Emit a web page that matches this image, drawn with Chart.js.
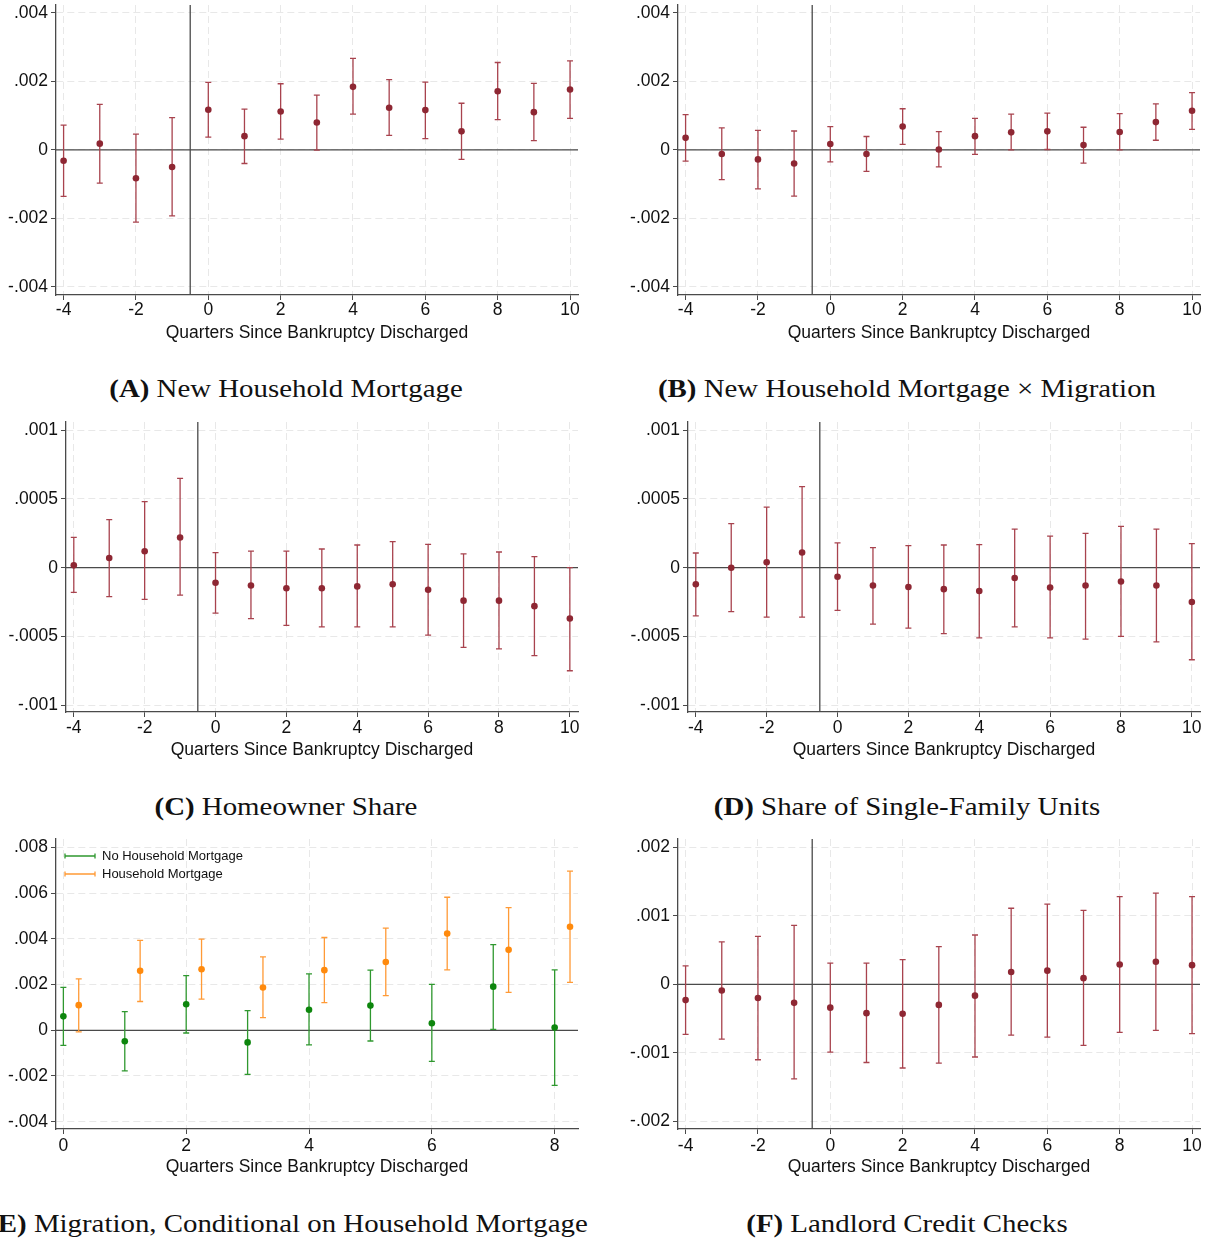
<!DOCTYPE html>
<html>
<head>
<meta charset="utf-8">
<title>Event study estimates</title>
<script src="https://cdn.jsdelivr.net/npm/chart.js@4.4.1/dist/chart.umd.min.js"></script>
<style>
  body { margin: 0; background: #fff; }
  #page { position: relative; width: 1209px; height: 1243px; overflow: hidden; background: #fff; }
  #page canvas { position: absolute; }
  .caption {
    position: absolute; width: 760px; margin-left: -380px; text-align: center;
    font-family: "Liberation Serif", "Times New Roman", serif; font-size: 26px; line-height: 30px;
    color: #111; white-space: nowrap; transform: scaleX(1.11);
  }
</style>
</head>
<body>
<div id="page">
  <canvas id="chartA" width="600" height="350" style="left:0;top:0"></canvas>
  <canvas id="chartB" width="587" height="350" style="left:622px;top:0"></canvas>
  <canvas id="chartC" width="600" height="350" style="left:0;top:415px"></canvas>
  <canvas id="chartD" width="587" height="350" style="left:622px;top:415px"></canvas>
  <canvas id="chartE" width="600" height="350" style="left:0;top:830px"></canvas>
  <canvas id="chartF" width="587" height="350" style="left:622px;top:830px"></canvas>

  <div class="caption" style="left:286px;top:374px"><b>(A)</b> New Household Mortgage</div>
  <div class="caption" style="left:907px;top:374px"><b>(B)</b> New Household Mortgage × Migration</div>
  <div class="caption" style="left:286px;top:792px"><b>(C)</b> Homeowner Share</div>
  <div class="caption" style="left:907px;top:792px"><b>(D)</b> Share of Single-Family Units</div>
  <div class="caption" style="left:288px;top:1209px"><b>(E)</b> Migration, Conditional on Household Mortgage</div>
  <div class="caption" style="left:907px;top:1209px"><b>(F)</b> Landlord Credit Checks</div>
</div>

<script>
// quarters relative to discharge
const quarters = [-4, -3, -2, -1, 0, 1, 2, 3, 4, 5, 6, 7, 8, 9, 10];
const xTicks = [-4, -2, 0, 2, 4, 6, 8, 10];

// (A) new household mortgage
const coefA = [-0.00032, 0.00018, -0.00083, -0.00050, 0.00117, 0.00040, 0.00112, 0.00080, 0.00184, 0.00123, 0.00116, 0.00054, 0.00171, 0.00110, 0.00176];
const lowA = [-0.00136, -0.00097, -0.00211, -0.00193, 0.00037, -0.00040, 0.00031, -0.00001, 0.00104, 0.00042, 0.00033, -0.00028, 0.00088, 0.00027, 0.00092];
const highA = [0.00072, 0.00133, 0.00046, 0.00094, 0.00197, 0.00119, 0.00193, 0.00160, 0.00267, 0.00205, 0.00198, 0.00136, 0.00255, 0.00194, 0.00260];

// (B) new household mortgage x migration
const coefB = [0.00035, -0.00012, -0.00028, -0.00040, 0.00017, -0.00012, 0.00068, 0.00001, 0.00040, 0.00051, 0.00054, 0.00014, 0.00052, 0.00081, 0.00114];
const lowB = [-0.00033, -0.00087, -0.00114, -0.00135, -0.00035, -0.00063, 0.00016, -0.00050, -0.00013, 0.00000, 0.00001, -0.00039, 0.00000, 0.00028, 0.00060];
const highB = [0.00103, 0.00064, 0.00057, 0.00055, 0.00068, 0.00039, 0.00120, 0.00053, 0.00092, 0.00104, 0.00107, 0.00066, 0.00106, 0.00134, 0.00167];
const yTicksAB = [-0.004, -0.002, 0, 0.002, 0.004];

// (C) homeowner share
const coefC = [0.000017, 0.00007, 0.00012, 0.00022, -0.00011, -0.00013, -0.00015, -0.00015, -0.000136, -0.00012, -0.00016, -0.00024, -0.00024, -0.00028, -0.00037];
const lowC = [-0.00018, -0.00021, -0.00023, -0.00020, -0.00033, -0.00037, -0.00042, -0.00043, -0.00043, -0.00043, -0.00049, -0.00058, -0.00059, -0.00064, -0.00075];
const highC = [0.00022, 0.00035, 0.00048, 0.00065, 0.00011, 0.00012, 0.00012, 0.000136, 0.000165, 0.00019, 0.00017, 0.00010, 0.000114, 0.00008, 0.0];

// (D) share of single-family units
const coefD = [-0.00012, 0.0, 0.00004, 0.00011, -0.000066, -0.00013, -0.00014, -0.000156, -0.00017, -0.000075, -0.000144, -0.00013, -0.00010, -0.00013, -0.00025];
const lowD = [-0.00035, -0.00032, -0.00036, -0.00036, -0.00031, -0.00041, -0.00044, -0.00048, -0.00051, -0.00043, -0.00051, -0.00052, -0.00050, -0.00054, -0.00067];
const highD = [0.000107, 0.00032, 0.00044, 0.00059, 0.00018, 0.000146, 0.00016, 0.000165, 0.000168, 0.00028, 0.00023, 0.00025, 0.00030, 0.00028, 0.000175];
const yTicksCD = [-0.001, -0.0005, 0, 0.0005, 0.001];

// (E) migration, split by household mortgage
const quartersE = [0, 1, 2, 3, 4, 5, 6, 7, 8];
const xTicksE = [0, 2, 4, 6, 8];
const coefNoMtg = [0.00061, -0.00048, 0.00114, -0.00053, 0.00090, 0.00108, 0.00031, 0.00191, 0.00012];
const lowNoMtg = [-0.00066, -0.00178, -0.00012, -0.00193, -0.00064, -0.00047, -0.00136, 0.00004, -0.00241];
const highNoMtg = [0.00188, 0.00082, 0.00239, 0.00086, 0.00247, 0.00263, 0.00201, 0.00375, 0.00264];
const coefMtg = [0.00110, 0.00260, 0.00267, 0.00187, 0.00263, 0.00299, 0.00423, 0.00352, 0.00453];
const lowMtg = [-0.00007, 0.00126, 0.00136, 0.00055, 0.00121, 0.00152, 0.00264, 0.00166, 0.00210];
const highMtg = [0.00225, 0.00393, 0.00399, 0.00321, 0.00406, 0.00447, 0.00582, 0.00537, 0.00696];
const yTicksE = [-0.004, -0.002, 0, 0.002, 0.004, 0.006, 0.008];
const dodge = 0.25; // mortgage series drawn a quarter step to the right

// (F) landlord credit checks
const coefF = [-0.00023, -0.00009, -0.00020, -0.00027, -0.00034, -0.00042, -0.00043, -0.00030, -0.000165, 0.00018, 0.00020, 0.00009, 0.00029, 0.00033, 0.00028];
const lowF = [-0.00073, -0.00080, -0.00110, -0.00138, -0.00099, -0.00114, -0.00122, -0.00115, -0.00106, -0.00074, -0.00077, -0.00089, -0.00070, -0.00067, -0.00072];
const highF = [0.00027, 0.00062, 0.00070, 0.00086, 0.00031, 0.00031, 0.00036, 0.00055, 0.00072, 0.00111, 0.00117, 0.00108, 0.00128, 0.00133, 0.00128];
const yTicksF = [-0.002, -0.001, 0, 0.001, 0.002];

const RED = '#8e2733', RED_BAR = '#a8434e';
const GREEN = '#0d860d', GREEN_BAR = '#2f982f';
const ORANGE = '#ff8a0d', ORANGE_BAR = '#ff9a36';
const tickFont = { family: "'Liberation Sans', Arial, sans-serif", size: 17.5, lineHeight: 1 };

// Stata style labels: .004, -.0005, 0
function stataLabel(v) {
  if (v === 0) return '0';
  return (v < 0 ? '-' : '') + String(Math.abs(v)).replace(/^0/, '');
}

// confidence intervals, zero line, discharge line and the in-plot legend
const errorBars = {
  id: 'errorBars',
  beforeDatasetsDraw(chart, args, opts) {
    const { ctx, chartArea: area, scales: { x, y } } = chart;
    ctx.save();
    ctx.strokeStyle = '#4a4a4a';
    ctx.lineWidth = 1.3;
    ctx.beginPath();
    const y0 = y.getPixelForValue(0);
    ctx.moveTo(area.left, y0);
    ctx.lineTo(area.right, y0);
    if (opts.eventLine != null) {
      const xe = x.getPixelForValue(opts.eventLine);
      ctx.moveTo(xe, area.top);
      ctx.lineTo(xe, area.bottom);
    }
    ctx.stroke();

    const cap = 3;
    chart.data.datasets.forEach(ds => {
      ctx.strokeStyle = ds.barColor;
      ctx.lineWidth = 1.3;
      ctx.beginPath();
      ds.data.forEach((p, i) => {
        const px = x.getPixelForValue(p.x);
        const lo = y.getPixelForValue(ds.low[i]);
        const hi = y.getPixelForValue(ds.high[i]);
        ctx.moveTo(px, lo); ctx.lineTo(px, hi);
        ctx.moveTo(px - cap, lo); ctx.lineTo(px + cap, lo);
        ctx.moveTo(px - cap, hi); ctx.lineTo(px + cap, hi);
      });
      ctx.stroke();
    });
    ctx.restore();
  },
  afterDatasetsDraw(chart, args, opts) {
    if (!opts.legend) return;
    const { ctx, chartArea: area } = chart;
    ctx.save();
    ctx.font = "13px 'Liberation Sans', Arial, sans-serif";
    ctx.textBaseline = 'middle';
    chart.data.datasets.forEach((ds, i) => {
      const ly = area.top + 17 + i * 18;
      const lx = area.left + 9;
      ctx.strokeStyle = ds.barColor;
      ctx.lineWidth = 1.3;
      ctx.beginPath();
      ctx.moveTo(lx, ly); ctx.lineTo(lx + 30, ly);
      ctx.moveTo(lx, ly - 2.5); ctx.lineTo(lx, ly + 2.5);
      ctx.moveTo(lx + 30, ly - 2.5); ctx.lineTo(lx + 30, ly + 2.5);
      ctx.stroke();
      ctx.fillStyle = '#111';
      ctx.fillText(ds.label, lx + 37, ly);
    });
    ctx.restore();
  }
};

function series(label, xs, coef, low, high, color, barColor) {
  return {
    label,
    data: xs.map((q, i) => ({ x: q, y: coef[i] })),
    low, high, barColor,
    backgroundColor: color,
    borderColor: color,
    borderWidth: 0,
    pointRadius: 3.3,
    pointHoverRadius: 3.3
  };
}

function makePanel(id, cfg) {
  const canvas = document.getElementById(id);
  const W = canvas.width, H = canvas.height;
  const grid = { color: '#e8e8e8', lineWidth: 1, tickLength: 5, tickColor: '#4a4a4a', tickWidth: 1, tickBorderDash: [] };
  const border = { color: '#4a4a4a', width: 1.3, dash: [7, 4] };
  return new Chart(canvas, {
    type: 'scatter',
    data: { datasets: cfg.datasets },
    options: {
      responsive: false,
      animation: false,
      events: [],
      layout: { padding: { left: 0, top: cfg.box.top, right: W - cfg.box.right, bottom: 0 } },
      plugins: {
        legend: { display: false },
        tooltip: { enabled: false },
        errorBars: { eventLine: cfg.eventLine, legend: cfg.legend }
      },
      scales: {
        x: {
          type: 'linear',
          min: cfg.xRange[0],
          max: cfg.xRange[1],
          afterBuildTicks: s => { s.ticks = cfg.xTicks.map(v => ({ value: v })); },
          afterFit: s => { s.height = H - cfg.box.bottom; s.paddingLeft = 0; s.paddingRight = 0; },
          ticks: { font: tickFont, color: '#111', padding: cfg.tickPad, maxRotation: 0, autoSkip: false, callback: v => String(v) },
          grid, border,
          title: {
            display: true,
            text: 'Quarters Since Bankruptcy Discharged',
            font: tickFont,
            color: '#111',
            padding: { top: 0, bottom: cfg.titlePad }
          }
        },
        y: {
          type: 'linear',
          min: cfg.yRange[0],
          max: cfg.yRange[1],
          afterBuildTicks: s => { s.ticks = cfg.yTicks.map(v => ({ value: v })); },
          afterFit: s => { s.width = cfg.box.left; s.paddingTop = 0; s.paddingBottom = 0; },
          ticks: { font: tickFont, color: '#111', padding: 3, autoSkip: false, callback: stataLabel },
          grid, border
        }
      }
    },
    plugins: [errorBars]
  });
}

makePanel('chartA', {
  datasets: [series('New Household Mortgage', quarters, coefA, lowA, highA, RED, RED_BAR)],
  box: { left: 56, top: 5, right: 578, bottom: 295 },
  xRange: [-4.21, 10.22], yRange: [-0.00424, 0.00423],
  xTicks, yTicks: yTicksAB, eventLine: -0.5, tickPad: 1.5, titlePad: 8.5
});

makePanel('chartB', {
  datasets: [series('New Household Mortgage x Migration', quarters, coefB, lowB, highB, RED, RED_BAR)],
  box: { left: 56, top: 5, right: 578, bottom: 295 },
  xRange: [-4.21, 10.22], yRange: [-0.00424, 0.00423],
  xTicks, yTicks: yTicksAB, eventLine: -0.5, tickPad: 1.5, titlePad: 8.5
});

makePanel('chartC', {
  datasets: [series('Homeowner Share', quarters, coefC, lowC, highC, RED, RED_BAR)],
  box: { left: 66, top: 7, right: 578, bottom: 297 },
  xRange: [-4.22, 10.23], yRange: [-0.00105, 0.00106],
  xTicks, yTicks: yTicksCD, eventLine: -0.5, tickPad: 2.5, titlePad: 6.5
});

makePanel('chartD', {
  datasets: [series('Share of Single-Family Units', quarters, coefD, lowD, highD, RED, RED_BAR)],
  box: { left: 66, top: 7, right: 578, bottom: 297 },
  xRange: [-4.22, 10.23], yRange: [-0.00105, 0.00106],
  xTicks, yTicks: yTicksCD, eventLine: -0.5, tickPad: 2.5, titlePad: 6.5
});

makePanel('chartE', {
  datasets: [
    series('No Household Mortgage', quartersE, coefNoMtg, lowNoMtg, highNoMtg, GREEN, GREEN_BAR),
    series('Household Mortgage', quartersE.map(q => q + dodge), coefMtg, lowMtg, highMtg, ORANGE, ORANGE_BAR)
  ],
  box: { left: 56, top: 9, right: 578, bottom: 299 },
  xRange: [-0.12, 8.38], yRange: [-0.00432, 0.00837],
  xTicks: xTicksE, yTicks: yTicksE, eventLine: null, legend: true, tickPad: 3, titlePad: 4
});

makePanel('chartF', {
  datasets: [series('Landlord Credit Checks', quarters, coefF, lowF, highF, RED, RED_BAR)],
  box: { left: 56, top: 9, right: 578, bottom: 299 },
  xRange: [-4.21, 10.22], yRange: [-0.00211, 0.00212],
  xTicks, yTicks: yTicksF, eventLine: -0.5, tickPad: 3, titlePad: 4
});
</script>
</body>
</html>
